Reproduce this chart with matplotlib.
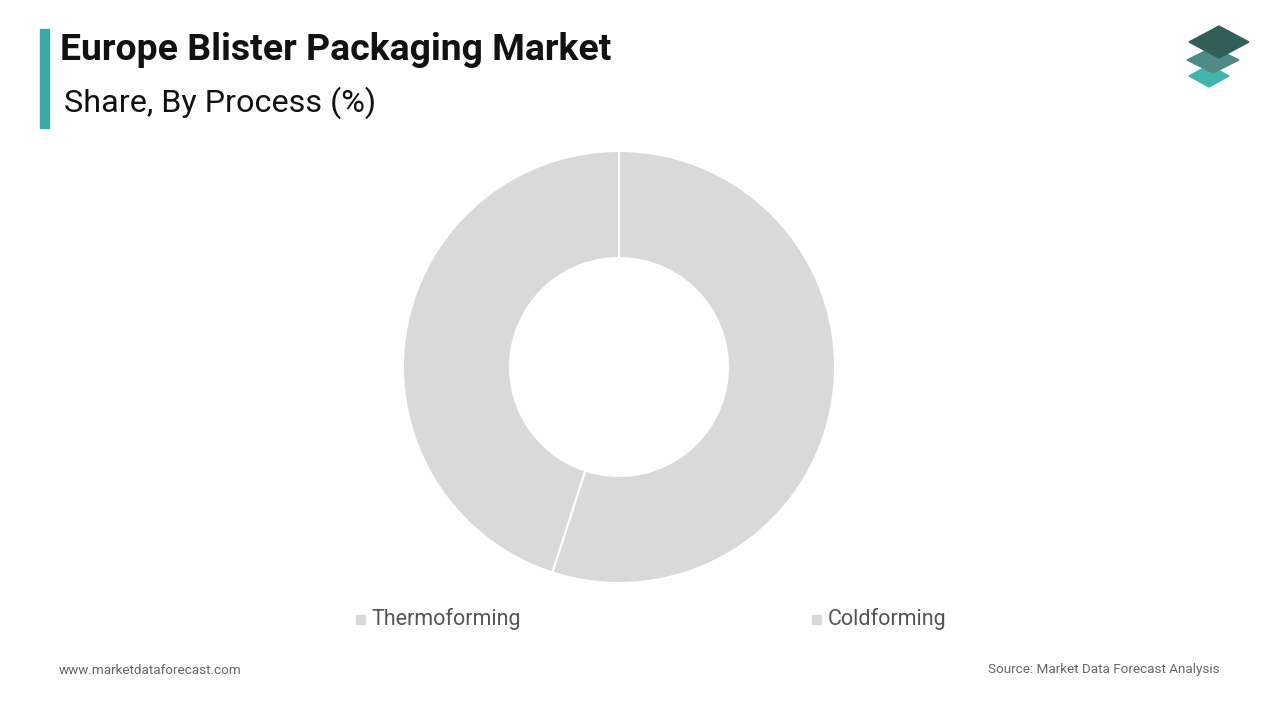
import matplotlib
matplotlib.use("Agg")
import matplotlib.pyplot as plt
from matplotlib.patches import Rectangle, Polygon

categories = ["Thermoforming", "Coldforming"]
shares = [55, 45]
colors = ["#d9d9d9", "#d9d9d9"]

plt.rcParams['font.family'] = ['Roboto', 'DejaVu Sans']
fig = plt.figure(figsize=(12.8, 7.2), dpi=100)

ax = fig.add_axes([(619-216)/1280, 1-(367+216)/720, 432/1280, 432/720])
ax.pie(shares, colors=colors, startangle=90, counterclock=False,
       wedgeprops=dict(width=107/216, edgecolor="white", linewidth=1.5))
ax.set_xlim(-1, 1)
ax.set_ylim(-1, 1)
ax.set_aspect('equal')
ax.axis('off')

# title
fig.patches.append(Rectangle((40/1280, 1-128/720), 9/1280, 99/720, transform=fig.transFigure, color="#3aa9a5"))
fig.text(60/1280, 1-50/720, "Europe Blister Packaging Market", fontsize=26.9, fontweight='bold', va='center', color="#111111")
fig.text(64/1280, 1-103/720, "Share, By Process (%)", fontsize=23.3, va='center', color="#111111")

# legend
for x, lab in [(356, categories[0]), (812, categories[1])]:
    fig.patches.append(Rectangle((x/1280, 1-624/720), 9/1280, 9/720, transform=fig.transFigure, color="#d9d9d9"))
    fig.text((x+16)/1280, 1-619/720, lab, fontsize=15.5, va='center', color="#555555")

fig.text(59/1280, 1-670/720, "www.marketdataforecast.com", fontsize=9.7, va='center', color="#666666")
fig.text(1220/1280, 1-670/720, "Source: Market Data Forecast Analysis", fontsize=9.7, va='center', ha='right', color="#666666")

# logo
def diamond(cx, cy, w, h, c):
    pts = [((cx-w)/1280, 1-cy/720), (cx/1280, 1-(cy-h)/720), ((cx+w)/1280, 1-cy/720), (cx/1280, 1-(cy+h)/720)]
    fig.patches.append(Polygon(pts, closed=True, transform=fig.transFigure, color=c))
diamond(1209, 76, 20, 11, "#3fb5ae")
diamond(1213, 60, 26, 13, "#4f8a84")
diamond(1219, 42, 30, 16, "#2f5f58")

fig.savefig("out.png", dpi=100)
